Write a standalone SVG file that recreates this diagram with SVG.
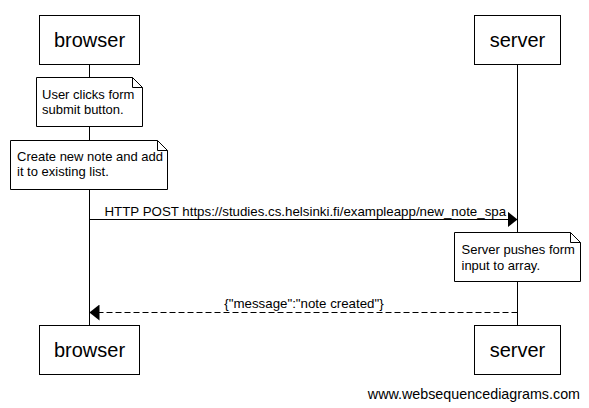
<svg xmlns="http://www.w3.org/2000/svg" width="589" height="408" viewBox="0 0 589 408">
<style>
.box{fill:#fff;stroke:#000;stroke-width:1}
.life{stroke:#000;stroke-width:1}
.actor{font-family:"Liberation Sans",Arial,sans-serif;font-size:20px;text-anchor:middle;fill:#000}
.t{font-family:"Liberation Sans",Arial,sans-serif;font-size:13.3px;fill:#000}
.n{font-family:"Liberation Sans",Arial,sans-serif;font-size:13px;fill:#000}
.msg{stroke:#000;stroke-width:1;fill:none}
</style>
<defs>
<marker id="ah" markerWidth="10" markerHeight="16" refX="10" refY="8" orient="auto" markerUnits="userSpaceOnUse">
<path d="M0,0 L10,8 L0,16 Z" fill="#000"/>
</marker>
</defs>
<rect width="589" height="408" fill="#fff"/>
<g id="lifelines">
<line class="life" x1="89.5" y1="64" x2="89.5" y2="326"/>
<line class="life" x1="517.5" y1="64" x2="517.5" y2="326"/>
</g>
<g id="browser-top"><rect class="box" x="39.5" y="15.5" width="100" height="49"/><text class="actor" x="89.5" y="47">browser</text></g>
<g id="server-top"><rect class="box" x="474.5" y="15.5" width="86" height="49"/><text class="actor" x="517.5" y="47">server</text></g>
<g id="note1"><path class="box" d="M36.5,77.5 H132.5 L142.5,87.5 V126.5 H36.5 Z"/><path class="msg" d="M132.5,77.5 V87.5 H142.5"/><text class="n" x="42" y="99">User clicks form</text><text class="n" x="42" y="114">submit button.</text></g>
<g id="note2"><path class="box" d="M10.5,140.5 H157.5 L167.5,150.5 V189.5 H10.5 Z"/><path class="msg" d="M157.5,140.5 V150.5 H167.5"/><text class="n" x="17" y="161">Create new note and add</text><text class="n" x="17" y="176">it to existing list.</text></g>
<g id="note3"><path class="box" d="M454.5,232.5 H570.5 L580.5,242.5 V281.5 H454.5 Z"/><path class="msg" d="M570.5,232.5 V242.5 H580.5"/><text class="n" x="461.5" y="254">Server pushes form</text><text class="n" x="461.5" y="270">input to array.</text></g>
<g id="connectors">
<line class="msg" x1="89.5" y1="219.5" x2="517.5" y2="219.5" marker-end="url(#ah)"/>
<text class="t" x="104.5" y="216">HTTP POST https://studies.cs.helsinki.fi/exampleapp/new_note_spa</text>
<line class="msg" x1="517.5" y1="312.5" x2="89.5" y2="312.5" stroke-dasharray="6,3" marker-end="url(#ah)"/>
<text class="t" x="304" y="308" text-anchor="middle">{"message":"note created"}</text>
</g>
<g id="browser-bottom"><rect class="box" x="39.5" y="325.5" width="100" height="49"/><text class="actor" x="89.5" y="357">browser</text></g>
<g id="server-bottom"><rect class="box" x="474.5" y="325.5" width="86" height="49"/><text class="actor" x="517.5" y="357">server</text></g>
<text x="580" y="399" text-anchor="end" style="font-family:'Liberation Sans',Arial,sans-serif;font-size:14.3px;fill:#000">www.websequencediagrams.com</text>
</svg>
